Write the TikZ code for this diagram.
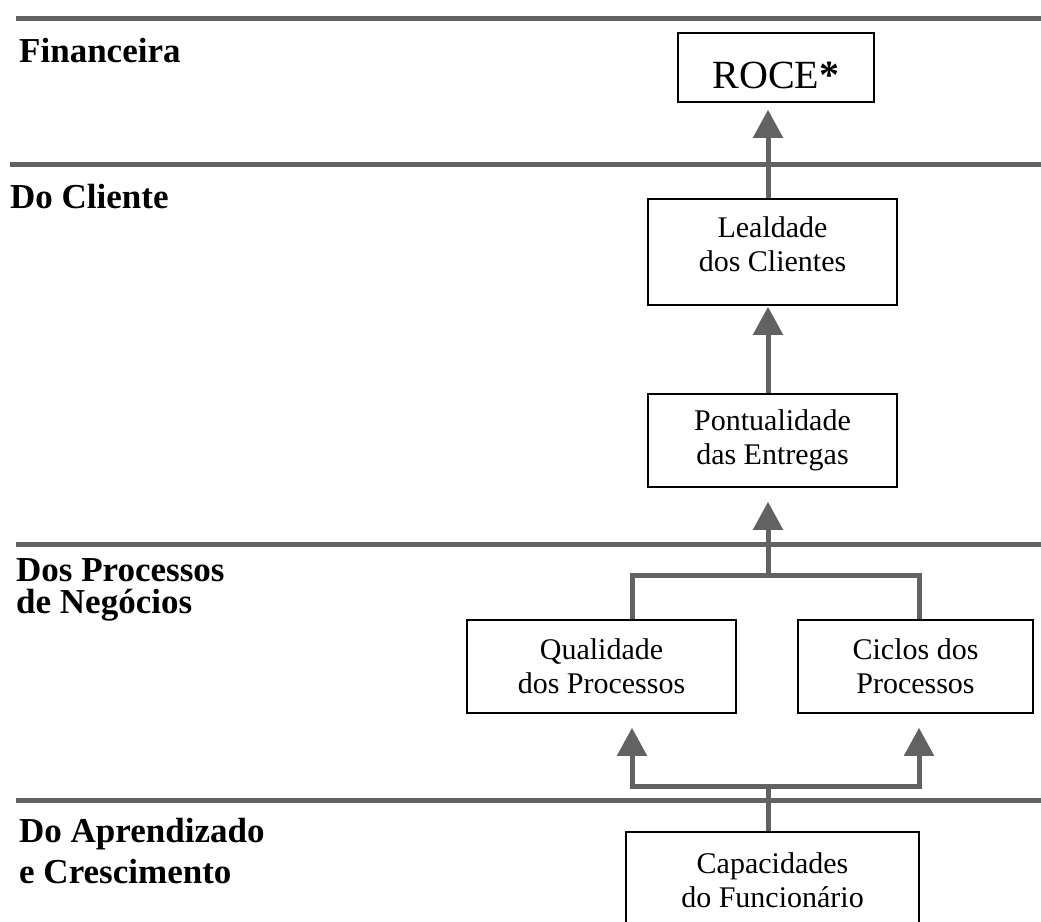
\documentclass[tikz,border=0pt]{standalone}
\usepackage{fontspec}
\setmainfont{Liberation Serif}
\usetikzlibrary{arrows.meta}
\definecolor{rulegray}{RGB}{98,98,98}
\begin{document}
\begin{tikzpicture}[x=1pt,y=-1pt,
  band/.style={draw=rulegray, line width=5pt},
  conn/.style={draw=rulegray, line width=5pt, line join=miter},
  upconn/.style={conn, -{Triangle[length=28pt,width=29pt]}},
  box/.style={draw=black, line width=1.5pt, inner sep=0pt, align=center,
              font=\fontsize{30}{34}\selectfont},
  head/.style={font=\fontsize{35}{40}\selectfont\bfseries, anchor=base west, inner sep=0pt},
]
\useasboundingbox (0,0) rectangle (1041,921);
\clip (0,0) rectangle (1041,921);

% perspective separators
\draw[band] (16,18) -- (1041,18);
\draw[band] (10,164) -- (1041,164);
\draw[band] (16,544) -- (1041,544);
\draw[band] (16,800) -- (1041,800);

% perspective titles
\node[head] (fin)   at (19,62)  {Financeira};
\node[head] (cli)   at (10,208) {Do Cliente};
\node[head] (proc1) at (16,581) {Dos Processos};
\node[head] (proc2) at (16,613) {de Negócios};
\node[head] (apr1)  at (19,842) {Do Aprendizado};
\node[head] (apr2)  at (19,883) {e Crescimento};

% objectives
\node[box, minimum width=196pt, minimum height=69pt, font=\fontsize{40}{44}\selectfont,
      text height=41pt, text depth=0pt]
  (roce) at (776,67.5) {ROCE\textbf{*}};
\node[box, minimum width=249pt, minimum height=106pt, text depth=15pt]
  (lea)  at (772.5,252)   {Lealdade\\dos Clientes};
\node[box, minimum width=249pt, minimum height=93pt]  (pont) at (772.5,440.5) {Pontualidade\\das Entregas};
\node[box, minimum width=269pt, minimum height=93pt]  (qual) at (601.5,666.5) {Qualidade\\dos Processos};
\node[box, minimum width=235pt, minimum height=93pt]  (cic)  at (915.5,666.5) {Ciclos dos\\Processos};
\node[box, minimum width=293pt, minimum height=96pt, anchor=north] (cap) at (772.5,831) {Capacidades\\do Funcionário};

% connector columns and junctions
\coordinate (col) at (768,0);
\coordinate (qx)  at (632,0);
\coordinate (cx)  at (919,0);
\coordinate (jt)  at (768,575);
\coordinate (jb)  at (768,786);

% cause-effect links
\draw[upconn, shorten >=7pt] (lea.north -| col) -- (roce.south -| col);
\draw[upconn, shorten >=1pt] (pont.north -| col) -- (lea.south -| col);
\draw[conn] (qual.north -| qx) -- (qx |- jt) -- (cx |- jt) -- (cic.north -| cx);
\draw[upconn, shorten >=14pt] (jt) -- (pont.south -| col);
\draw[conn] (cap.north -| col) -- (jb);
\draw[upconn, shorten >=14pt] (jb) -| (qual.south -| qx);
\draw[upconn, shorten >=14pt] (jb) -| (cic.south -| cx);
\end{tikzpicture}
\end{document}
